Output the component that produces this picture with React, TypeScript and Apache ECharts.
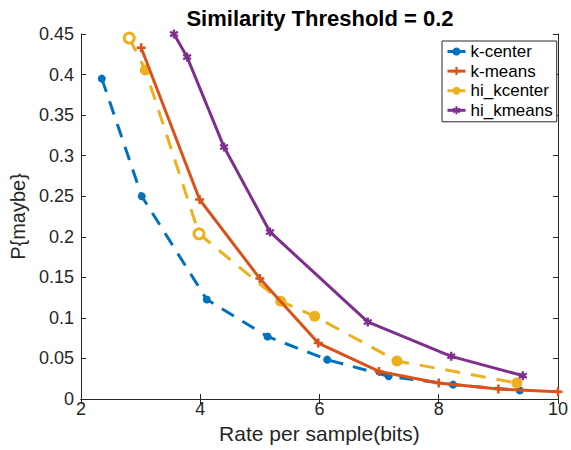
import React, { useEffect, useRef } from "react";
import * as echarts from "echarts";

const xTicks = [2, 4, 6, 8, 10];
const yTicks = [0, 0.05, 0.1, 0.15, 0.2, 0.25, 0.3, 0.35, 0.4, 0.45];

const kCenter: [number, number][] = [
  [2.35, 0.395], [3.02, 0.25], [4.11, 0.1226], [5.13, 0.077],
  [6.13, 0.0485], [7.16, 0.028], [8.24, 0.0177], [9.36, 0.0106],
];
const kMeans: [number, number][] = [
  [3.01, 0.433], [3.99, 0.246], [5.0, 0.1485], [5.98, 0.069],
  [7.0, 0.034], [8.0, 0.0197], [9.0, 0.0123], [10.0, 0.009],
];
const hiKCenter: [number, number][] = [
  [2.81, 0.445], [3.08, 0.4057], [3.98, 0.2037], [5.35, 0.1205],
  [5.92, 0.102], [7.3, 0.0469], [9.31, 0.0197],
];
const hiKCenterOpen = [true, false, true, false, false, false, false];
const hiKMeans: [number, number][] = [
  [3.56, 0.45], [3.78, 0.4217], [4.4, 0.3106], [5.17, 0.206],
  [6.81, 0.095], [8.21, 0.0526], [9.41, 0.0288],
];

const BLUE = "#0072BD";
const ORANGE = "#D95319";
const YELLOW = "#EDB120";
const PURPLE = "#7E2F8E";
const AX = "#262626";
const FONT = "Liberation Sans, Arial, Helvetica, sans-serif";

const PLUS = "path://M-1.4,-5L1.4,-5L1.4,-1.4L5,-1.4L5,1.4L1.4,1.4L1.4,5L-1.4,5L-1.4,1.4L-5,1.4L-5,-1.4L-1.4,-1.4Z";
const ASTER =
  "path://M-1.3,-5L1.3,-5L1.3,5L-1.3,5Z M3.68,-3.6L4.98,-1.35L-3.68,3.6L-4.98,1.35Z M-4.98,-1.35L-3.68,-3.6L4.98,1.35L3.68,3.6Z";

export default function App() {
  const ref = useRef<HTMLDivElement>(null);
  useEffect(() => {
    if (!ref.current) return;
    const chart = echarts.init(ref.current, undefined, { renderer: "svg" });
    const axisCommon = {
      axisLine: { show: true, lineStyle: { color: AX, width: 1 } },
      axisTick: { show: true, inside: true, length: 5, lineStyle: { color: AX } },
      splitLine: { show: false },
    };
    chart.setOption({
      animation: false,
      backgroundColor: "#fff",
      title: {
        text: "Similarity Threshold = 0.2",
        left: 320,
        textAlign: "center",
        top: 7,
        padding: 0,
        textStyle: { fontFamily: FONT, fontSize: 22, fontWeight: "bold", color: "#000" },
      },
      grid: { left: 76, right: 9, top: 34, bottom: 51, containLabel: false },
      legend: {
        orient: "vertical",
        left: 442,
        top: 41,
        padding: [2, 4, 3, 4],
        borderColor: AX,
        borderWidth: 1,
        backgroundColor: "#fff",
        itemWidth: 18,
        itemHeight: 10,
        itemGap: 2.6,
        lineStyle: { width: 3, type: "solid" },
        textStyle: { fontFamily: FONT, fontSize: 17, color: "#000", lineHeight: 16 },
        data: ["k-center", "k-means", "hi_kcenter", "hi_kmeans"],
      },
      xAxis: [
        {
          type: "value",
          min: 2,
          max: 10,
          interval: 2,
          ...axisCommon,
          axisLabel: { fontFamily: FONT, fontSize: 18, color: AX, margin: 1, customValues: xTicks },
          name: "Rate per sample(bits)",
          nameLocation: "middle",
          nameGap: 24,
          nameTextStyle: { fontFamily: FONT, fontSize: 21, color: AX },
        },
        {
          type: "value",
          position: "top",
          min: 2,
          max: 10,
          interval: 2,
          ...axisCommon,
          axisLabel: { show: false },
        },
      ],
      yAxis: [
        {
          type: "value",
          min: 0,
          max: 0.45,
          interval: 0.05,
          ...axisCommon,
          axisLabel: {
            fontFamily: FONT,
            fontSize: 18,
            color: AX,
            margin: 7,
            formatter: (v: number) => {
              const t = yTicks.find((y) => Math.abs(y - v) < 1e-9);
              return t === undefined ? "" : String(t);
            },
          },
          name: "P{maybe}",
          nameLocation: "middle",
          nameGap: 51,
          nameRotate: 90,
          nameTextStyle: { fontFamily: FONT, fontSize: 20, color: AX },
        },
        {
          type: "value",
          position: "right",
          min: 0,
          max: 0.45,
          interval: 0.05,
          ...axisCommon,
          axisLabel: { show: false },
        },
      ],
      series: [
        {
          name: "k-center",
          type: "line",
          data: kCenter,
          symbol: "circle",
          symbolSize: 8,
          itemStyle: { color: BLUE },
          lineStyle: { color: BLUE, width: 3, type: [14, 10] },
          z: 2,
        },
        {
          name: "k-means",
          type: "line",
          data: kMeans,
          symbol: PLUS,
          symbolSize: 9,
          itemStyle: { color: ORANGE },
          lineStyle: { color: ORANGE, width: 3 },
          z: 3,
        },
        {
          name: "hi_kcenter",
          type: "line",
          data: hiKCenter.map((p, i) =>
            hiKCenterOpen[i]
              ? { value: p, symbolSize: 10, itemStyle: { color: "#fff", borderColor: YELLOW, borderWidth: 3 } }
              : { value: p }
          ),
          symbol: "circle",
          symbolSize: 11,
          itemStyle: { color: YELLOW },
          lineStyle: { color: YELLOW, width: 3, type: [15, 11] },
          z: 2,
        },
        {
          name: "hi_kmeans",
          type: "line",
          data: hiKMeans,
          symbol: ASTER,
          symbolSize: 9,
          itemStyle: { color: PURPLE },
          lineStyle: { color: PURPLE, width: 3 },
          z: 3,
        },
      ],
    });
    return () => chart.dispose();
  }, []);
  return (
    <div
      ref={ref}
      style={{ position: "absolute", left: 0, top: 0, width: 571, height: 450 }}
    />
  );
}
